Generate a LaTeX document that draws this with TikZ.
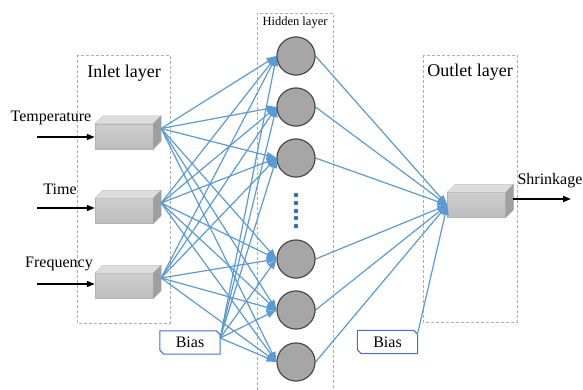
\documentclass[tikz,border=0pt]{standalone}
\usepackage{fontspec}
\setmainfont{Liberation Serif}
\usetikzlibrary{arrows.meta,calc}
\definecolor{lb}{HTML}{5B9BD5}
\definecolor{bb}{HTML}{4472C4}
\definecolor{dotb}{HTML}{3A6EA5}
\tikzset{
  layerbox/.style={draw=gray!65, dash pattern=on 3pt off 2pt, line width=0.8pt},
  conn/.style={draw=lb, line width=1.2pt, -{Triangle[length=10pt,width=7pt]}},
  inarr/.style={draw=black, line width=1.6pt, -{Triangle[length=8pt,width=6pt]}},
  neuron/.style={circle, draw=gray!55!black, fill=gray!70, line width=1pt, minimum size=38pt, inner sep=0pt},
  front/.style={rectangle, minimum width=58pt, minimum height=25pt, inner sep=0pt, top color=gray!38, bottom color=gray!52, draw=gray!60, line width=0.4pt},
  lbl/.style={font=\fontsize{16}{18}\selectfont, inner sep=0pt},
  title/.style={font=\fontsize{18}{20}\selectfont, inner sep=0pt},
  biasbox/.style={minimum width=60pt, minimum height=23pt, inner sep=0pt, font=\fontsize{16}{18}\selectfont},
  biasline/.style={draw=bb, line width=1pt, fill=white}
}
\newcommand\mycube[2]{%
  \node[front] (#1) at (#2) {};
  \filldraw[fill=gray!27, draw=gray!50, line width=0.4pt] (#1.north west) -- ++(8,-8) -- ($(#1.north east)+(8,-8)$) -- (#1.north east) -- cycle;
  \filldraw[fill=gray!75, draw=gray!70, line width=0.4pt] (#1.north east) -- ++(8,-8) -- ($(#1.south east)+(8,-8)$) -- (#1.south east) -- cycle;
  \coordinate (#1-o) at ($(#1.east)+(8,-8)$);
}
\newcommand\chamfer[1]{%
  \draw[biasline] (#1.north west) -- ($(#1.north east)+(-4,0)$) -- ($(#1.north east)+(0,4)$) -- (#1.south east) -- ($(#1.south west)+(4,0)$) -- ($(#1.south west)+(0,-4)$) -- cycle;
}
\begin{document}
\begin{tikzpicture}[x=1pt,y=-1pt]
\useasboundingbox (0,0) rectangle (583,389);
\fill[white] (0,0) rectangle (583,389);
% layer boxes
\draw[layerbox] (77,55) rectangle (170,323);
\draw[layerbox] (257,395) -- (257,13) -- (333,13) -- (333,395);
\draw[layerbox] (423,55) rectangle (517,322);
\node[title] (tin) at (124,73) {Inlet layer};
\node[title] (tout) at (470,72) {Outlet layer};
\node[font=\fontsize{12.5}{14}\selectfont, inner sep=0pt] (thid) at (295,23) {Hidden layer};
% hidden neurons
\foreach \i/\y in {1/56,2/107,3/158,4/259,5/310,6/362}{
  \node[neuron] (h\i) at (296,\y) {};
}
% cubes
\mycube{t}{124,136.5}
\mycube{ti}{124,211}
\mycube{f}{124,286}
\mycube{o}{476.5,205}
% bias boxes
\node[biasbox] (b1) at (190,342.5) {};
\node[biasbox] (b2) at (387.5,342) {};
\chamfer{b1}
\chamfer{b2}
\node[lbl] at (b1) {Bias};
\node[lbl] at (b2) {Bias};
\coordinate (b1o) at ($(b1.east)+(0,-4.5)$);
\coordinate (b2o) at ($(b2.north east)+(0,3)$);
% connections input -> hidden
\foreach \s in {t-o,ti-o,f-o,b1o}{
  \foreach \i in {1,...,6}{
    \draw[conn] (\s) -- (h\i.west);
  }
}
% hidden -> output
\foreach \i in {1,...,6}{
  \draw[conn] (h\i.east) -- (o.west);
}
\draw[conn] (b2o) -- (o.west);
% redraw neurons on top
\foreach \i/\y in {1/56,2/107,3/158,4/259,5/310,6/362}{
  \node[neuron] at (296,\y) {};
}
% dots
\foreach \y in {195,203,211,218,226}{
  \fill[dotb] (296,\y) circle (2.3);
}
% inputs
\node[lbl] (lt) at (51,118) {Temperature};
\node[lbl] (lti) at (60,189) {Time};
\node[lbl] (lf) at (59,264) {Frequency};
\coordinate (it) at (37,137);
\coordinate (iti) at (37,208);
\coordinate (if) at (37,284);
\draw[inarr] (it) -- (it -| t.west);
\draw[inarr] (iti) -- (iti -| ti.west);
\draw[inarr] (if) -- (if -| f.west);
% output
\coordinate (os) at ($(o.east)+(7,-6)$);
\coordinate (oe) at (571,199);
\draw[inarr] (os) -- (oe);
\node[lbl] (lsh) at (550,181) {Shrinkage};
\end{tikzpicture}
\end{document}
